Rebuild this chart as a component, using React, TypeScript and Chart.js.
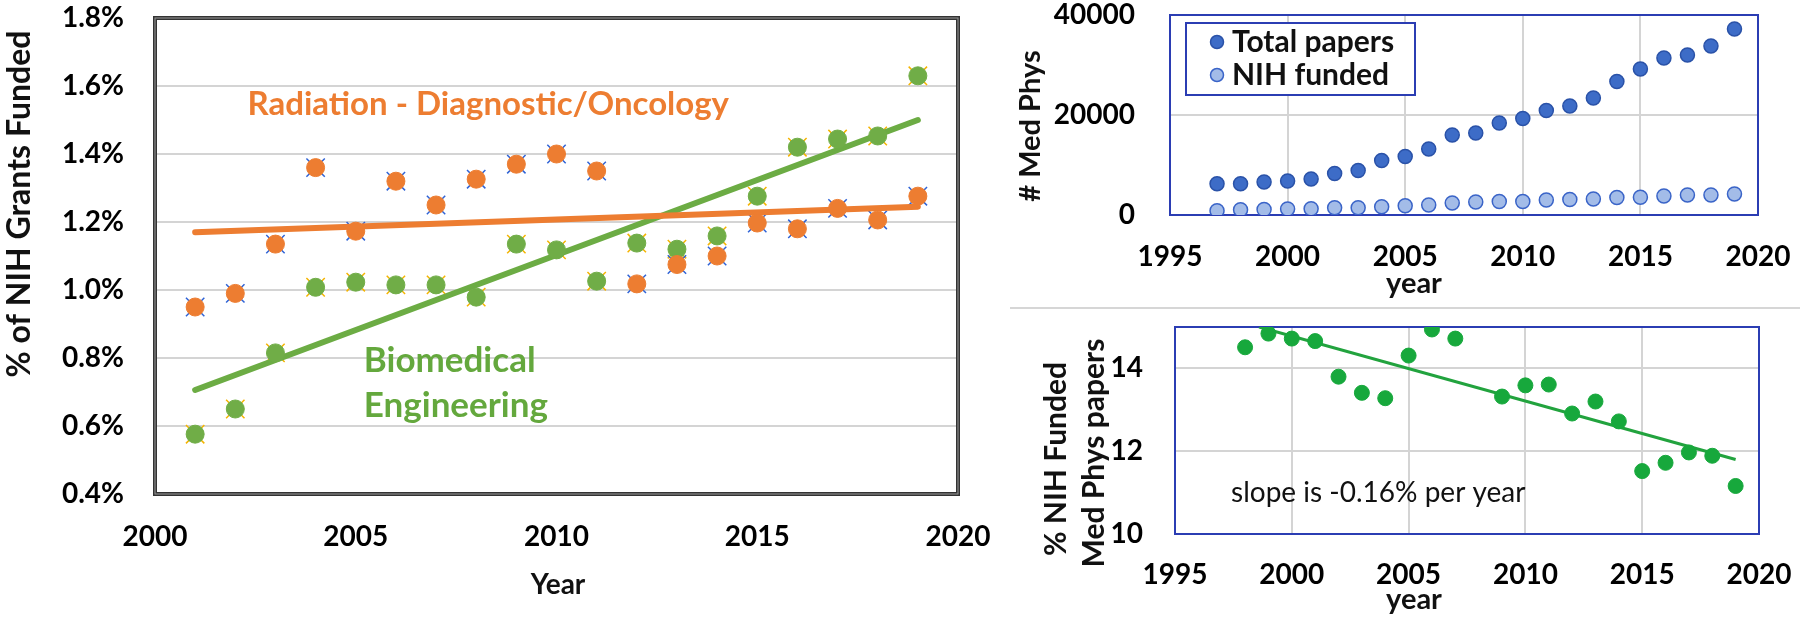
import React, { useEffect, useRef } from 'react';
import { Chart, registerables } from 'chart.js';

Chart.register(...registerables);

const FONT = 'Lato, "Open Sans", "DejaVu Sans", sans-serif';

// ---------- Left chart: % of NIH grants funded ----------
const grantYears = [2001, 2002, 2003, 2004, 2005, 2006, 2007, 2008, 2009, 2010, 2011, 2012, 2013, 2014, 2015, 2016, 2017, 2018, 2019];
const radiationPct = [0.95, 0.99, 1.135, 1.36, 1.173, 1.32, 1.25, 1.326, 1.37, 1.40, 1.35, 1.018, 1.075, 1.10, 1.197, 1.18, 1.24, 1.206, 1.276];
const biomedPct = [0.576, 0.65, 0.815, 1.008, 1.023, 1.015, 1.015, 0.979, 1.135, 1.118, 1.026, 1.138, 1.12, 1.159, 1.276, 1.42, 1.444, 1.453, 1.63];
const grantTrendYears = [2001, 2019];
const radiationTrend = [1.17, 1.245];
const biomedTrend = [0.706, 1.50];
const leftYTicks = [0.4, 0.6, 0.8, 1.0, 1.2, 1.4, 1.6, 1.8];
const leftXTicks = [2000, 2005, 2010, 2015, 2020];

// ---------- Top right: Med Phys papers ----------
const paperYears = [1997, 1998, 1999, 2000, 2001, 2002, 2003, 2004, 2005, 2006, 2007, 2008, 2009, 2010, 2011, 2012, 2013, 2014, 2015, 2016, 2017, 2018, 2019];
const totalPapers = [6250, 6250, 6600, 6800, 7200, 8300, 8900, 10900, 11700, 13200, 16000, 16400, 18400, 19300, 20900, 21800, 23400, 26700, 29200, 31400, 32000, 33800, 37200];
const nihFunded = [850, 1050, 1100, 1200, 1250, 1450, 1450, 1650, 1850, 2000, 2400, 2600, 2700, 2700, 3000, 3100, 3200, 3500, 3550, 3800, 4000, 4000, 4200];
const paperYTicks = [0, 20000, 40000];
const rightXTicks = [1995, 2000, 2005, 2010, 2015, 2020];

// ---------- Bottom right: % NIH funded Med Phys papers ----------
const pctYears = [1998, 1999, 2000, 2001, 2002, 2003, 2004, 2005, 2006, 2007, 2009, 2010, 2011, 2012, 2013, 2014, 2015, 2016, 2017, 2018, 2019];
const pctFunded = [14.51, 14.84, 14.72, 14.66, 13.8, 13.41, 13.28, 14.31, 14.94, 14.72, 13.32, 13.59, 13.61, 12.91, 13.2, 12.72, 11.52, 11.72, 11.97, 11.89, 11.16];
const pctTrendYears = [1998.6, 2019];
const pctTrend = [15.0, 11.8];
const pctYTicks = [10, 12, 14];

const ORANGE = '#ED7D31';
const GREEN = '#70AD47';
const GREEN_TEXT = '#64A83D';
const FRAME_BLUE = '#2B3DB3';
const GRID = '#d4d4d4';

type TextItem = {
  text: string;
  x?: number;
  y?: number;
  data?: [number, number];
  rotate?: number;
  font: string;
  color: string;
  align?: CanvasTextAlign;
};

function textPlugin(id: string, items: TextItem[]) {
  return {
    id,
    afterDraw(chart: any) {
      const ctx = chart.ctx as CanvasRenderingContext2D;
      for (const t of items) {
        let x = t.x ?? 0;
        let y = t.y ?? 0;
        if (t.data) {
          x = chart.scales.x.getPixelForValue(t.data[0]);
          y = chart.scales.y.getPixelForValue(t.data[1]);
        }
        ctx.save();
        ctx.translate(x, y);
        if (t.rotate) ctx.rotate(t.rotate);
        ctx.font = t.font;
        ctx.fillStyle = t.color;
        ctx.textAlign = t.align || 'center';
        ctx.textBaseline = 'middle';
        ctx.fillText(t.text, 0, 0);
        ctx.restore();
      }
    },
  };
}

function framePlugin(id: string, kind: 'black' | 'blue') {
  return {
    id,
    beforeDatasetsDraw(chart: any) {
      const { ctx, chartArea: a } = chart;
      ctx.save();
      if (kind === 'black') {
        ctx.strokeStyle = '#333';
        ctx.lineWidth = 4;
        ctx.strokeRect(a.left, a.top, a.right - a.left, a.bottom - a.top);
        ctx.strokeStyle = '#9a9a9a';
        ctx.lineWidth = 1;
        ctx.strokeRect(a.left, a.top, a.right - a.left, a.bottom - a.top);
      } else {
        ctx.strokeStyle = FRAME_BLUE;
        ctx.lineWidth = 2;
        ctx.strokeRect(a.left, a.top, a.right - a.left, a.bottom - a.top);
      }
      ctx.restore();
    },
  };
}

const legendPlugin = {
  id: 'papersLegend',
  afterDraw(chart: any) {
    const ctx = chart.ctx as CanvasRenderingContext2D;
    ctx.save();
    ctx.fillStyle = '#fff';
    ctx.fillRect(196, 23, 229, 72);
    ctx.strokeStyle = FRAME_BLUE;
    ctx.lineWidth = 2;
    ctx.strokeRect(196, 23, 229, 72);
    const items = [
      { label: 'Total papers', fill: '#3D6CC7', stroke: '#2A52A8', y: 42 },
      { label: 'NIH funded', fill: '#A3BCE8', stroke: '#3A64C8', y: 75 },
    ];
    for (const it of items) {
      ctx.beginPath();
      ctx.arc(227, it.y, 6.5, 0, Math.PI * 2);
      ctx.fillStyle = it.fill;
      ctx.fill();
      ctx.lineWidth = 1.5;
      ctx.strokeStyle = it.stroke;
      ctx.stroke();
      ctx.font = `bold 30px ${FONT}`;
      ctx.fillStyle = '#111';
      ctx.textAlign = 'left';
      ctx.textBaseline = 'middle';
      ctx.fillText(it.label, 242, it.y);
    }
    ctx.restore();
  },
};

const tickFont = (size: number) => ({ family: FONT, size, weight: 'bold' as const });

// fixed axis box sizes; drop Chart.js's automatic label overhang padding
const fixY = (w: number) => (s: any) => { s.width = w; s.paddingTop = 0; s.paddingBottom = 0; };
const fixX = (h: number) => (s: any) => { s.height = h; s.paddingLeft = 0; s.paddingRight = 0; };

export default function App() {
  const leftRef = useRef<HTMLCanvasElement>(null);
  const topRef = useRef<HTMLCanvasElement>(null);
  const botRef = useRef<HTMLCanvasElement>(null);

  useEffect(() => {
    const pts = (xs: number[], ys: number[]) => xs.map((x, i) => ({ x, y: ys[i] }));

    const left = new Chart(leftRef.current!, {
      type: 'scatter',
      data: {
        datasets: [
          { label: 'Radiation - Diagnostic/Oncology', data: pts(grantYears, radiationPct), backgroundColor: ORANGE, borderColor: ORANGE, pointRadius: 9, borderWidth: 1, order: 1 } as any,
          { label: 'Biomedical Engineering', data: pts(grantYears, biomedPct), backgroundColor: GREEN, borderColor: GREEN, pointRadius: 9, borderWidth: 1, order: 1 } as any,
          { label: 'Radiation trend', type: 'line', data: pts(grantTrendYears, radiationTrend), borderColor: ORANGE, borderWidth: 6, pointRadius: 0, borderCapStyle: 'round', order: 2 } as any,
          { label: 'Biomedical trend', type: 'line', data: pts(grantTrendYears, biomedTrend), borderColor: '#6CAC44', borderWidth: 6, pointRadius: 0, borderCapStyle: 'round', order: 2 } as any,
          { label: 'Radiation markers', data: pts(grantYears, radiationPct), pointStyle: 'crossRot', pointRadius: 13, borderColor: '#2F63D6', backgroundColor: 'transparent', borderWidth: 1.5, order: 3 } as any,
          { label: 'Biomedical markers', data: pts(grantYears, biomedPct), pointStyle: 'crossRot', pointRadius: 13, borderColor: '#F5B400', backgroundColor: 'transparent', borderWidth: 1.5, order: 3 } as any,
        ],
      },
      options: {
        animation: false,
        responsive: false,
        layout: { padding: { left: 0, top: 18, right: 42, bottom: 0 } },
        plugins: { legend: { display: false }, tooltip: { enabled: false } },
        scales: {
          x: {
            type: 'linear',
            min: 2000,
            max: 2020,
            afterBuildTicks: (s: any) => { s.ticks = leftXTicks.map((v) => ({ value: v })); },
            afterFit: fixX(127),
            ticks: { font: tickFont(28), color: '#000', padding: 26, maxRotation: 0, callback: (v: any) => String(v) },
            grid: { display: false, drawTicks: false },
            border: { display: false },
          },
          y: {
            type: 'linear',
            min: 0.4,
            max: 1.8,
            afterBuildTicks: (s: any) => { s.ticks = leftYTicks.map((v) => ({ value: v })); },
            afterFit: fixY(155),
            ticks: { font: tickFont(28), color: '#000', padding: 31, callback: (v: any) => Number(v).toFixed(1) + '%' },
            grid: { color: GRID, lineWidth: 2, drawTicks: false },
            border: { display: false },
          },
        },
      },
      plugins: [
        framePlugin('frameLeft', 'black'),
        textPlugin('textsLeft', [
          { text: '% of NIH Grants Funded', x: 20, y: 204, rotate: -Math.PI / 2, font: `bold 32px ${FONT}`, color: '#111' },
          { text: 'Year', x: 558, y: 585, font: `bold 28px ${FONT}`, color: '#111' },
          { text: 'Radiation - Diagnostic/Oncology', data: [2008.3, 1.547], font: `bold 33px ${FONT}`, color: ORANGE },
          { text: 'Biomedical', data: [2005.2, 0.791], font: `bold 35px ${FONT}`, color: GREEN_TEXT, align: 'left' },
          { text: 'Engineering', data: [2005.2, 0.659], font: `bold 35px ${FONT}`, color: GREEN_TEXT, align: 'left' },
        ]),
      ],
    } as any);

    const rightGrid = { color: GRID, lineWidth: 2, drawTicks: false };

    const top = new Chart(topRef.current!, {
      type: 'scatter',
      data: {
        datasets: [
          { label: 'Total papers', data: pts(paperYears, totalPapers), backgroundColor: '#3D6CC7', borderColor: '#2A52A8', borderWidth: 1.5, pointRadius: 7 } as any,
          { label: 'NIH funded', data: pts(paperYears, nihFunded), backgroundColor: '#A3BCE8', borderColor: '#3A64C8', borderWidth: 1.5, pointRadius: 7 } as any,
        ],
      },
      options: {
        animation: false,
        responsive: false,
        layout: { padding: { left: 0, top: 15, right: 42, bottom: 0 } },
        plugins: { legend: { display: false }, tooltip: { enabled: false } },
        scales: {
          x: {
            type: 'linear', min: 1995, max: 2020,
            afterBuildTicks: (s: any) => { s.ticks = rightXTicks.map((v) => ({ value: v })); },
            afterFit: fixX(85),
            ticks: { font: tickFont(28), color: '#000', padding: 25, maxRotation: 0, callback: (v: any) => String(v) },
            grid: rightGrid,
            border: { display: false },
          },
          y: {
            type: 'linear', min: 0, max: 40000,
            afterBuildTicks: (s: any) => { s.ticks = paperYTicks.map((v) => ({ value: v })); },
            afterFit: fixY(180),
            ticks: { font: tickFont(28), color: '#000', padding: 35, callback: (v: any) => String(v) },
            grid: rightGrid,
            border: { display: false },
          },
        },
      },
      plugins: [
        framePlugin('frameTop', 'blue'),
        legendPlugin,
        textPlugin('textsTop', [
          { text: '# Med Phys', x: 41, y: 126, rotate: -Math.PI / 2, font: `bold 29px ${FONT}`, color: '#111' },
          { text: 'year', x: 424, y: 284, font: `bold 29px ${FONT}`, color: '#111' },
        ]),
      ],
    } as any);

    const bot = new Chart(botRef.current!, {
      type: 'scatter',
      data: {
        datasets: [
          { label: '% NIH funded', data: pts(pctYears, pctFunded), backgroundColor: '#17A83C', borderColor: '#17A83C', borderWidth: 1, pointRadius: 7.5, order: 1 } as any,
          { label: 'trend', type: 'line', data: pts(pctTrendYears, pctTrend), borderColor: '#22A33E', borderWidth: 3, pointRadius: 0, order: 2 } as any,
        ],
      },
      options: {
        animation: false,
        responsive: false,
        layout: { padding: { left: 0, top: 17, right: 41, bottom: 0 } },
        plugins: { legend: { display: false }, tooltip: { enabled: false } },
        scales: {
          x: {
            type: 'linear', min: 1995, max: 2020,
            afterBuildTicks: (s: any) => { s.ticks = rightXTicks.map((v) => ({ value: v })); },
            afterFit: fixX(87),
            ticks: { font: tickFont(28), color: '#000', padding: 24, maxRotation: 0, callback: (v: any) => String(v) },
            grid: rightGrid,
            border: { display: false },
          },
          y: {
            type: 'linear', min: 10, max: 15,
            afterBuildTicks: (s: any) => { s.ticks = pctYTicks.map((v) => ({ value: v })); },
            afterFit: fixY(185),
            ticks: { font: tickFont(28), color: '#000', padding: 32, callback: (v: any) => String(v) },
            grid: rightGrid,
            border: { display: false },
          },
        },
      },
      plugins: [
        framePlugin('frameBot', 'blue'),
        textPlugin('textsBot', [
          { text: '% NIH Funded', x: 66, y: 149, rotate: -Math.PI / 2, font: `bold 30px ${FONT}`, color: '#111' },
          { text: 'Med Phys papers', x: 104, y: 143, rotate: -Math.PI / 2, font: `bold 30px ${FONT}`, color: '#111' },
          { text: 'year', x: 424, y: 290, font: `bold 29px ${FONT}`, color: '#111' },
          { text: 'slope is -0.16% per year', data: [2003.7, 10.99], font: `28px ${FONT}`, color: '#111' },
        ]),
      ],
    } as any);

    return () => {
      left.destroy();
      top.destroy();
      bot.destroy();
    };
  }, []);

  return (
    <div style={{ position: 'fixed', left: 0, top: 0, width: 1800, height: 621, background: '#fff', overflow: 'hidden' }}>
      <canvas ref={leftRef} width={1000} height={621} style={{ position: 'absolute', left: 0, top: 0 }} />
      <canvas ref={topRef} width={810} height={300} style={{ position: 'absolute', left: 990, top: 0 }} />
      <div style={{ position: 'absolute', left: 1010, top: 307, width: 790, height: 2, background: '#d6d6d6' }} />
      <canvas ref={botRef} width={810} height={311} style={{ position: 'absolute', left: 990, top: 310 }} />
    </div>
  );
}
